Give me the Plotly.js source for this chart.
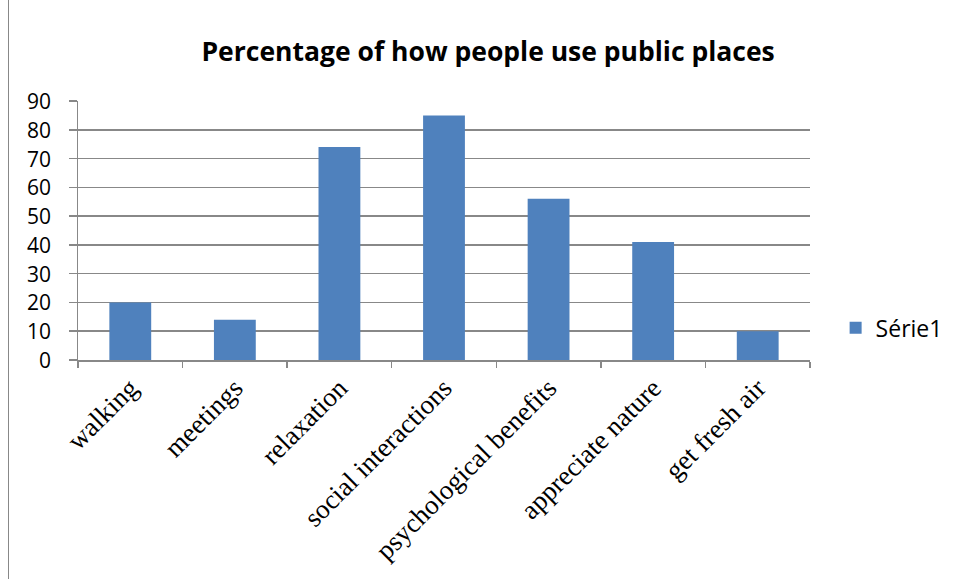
<!DOCTYPE html>
<html>
<head>
<meta charset="utf-8">
<script src="https://cdn.plot.ly/plotly-3.0.1.min.js"></script>
<style>
html,body{margin:0;padding:0;background:#fff;}
#wrap{position:absolute;left:0;top:0;width:959px;height:579px;}
#frame{position:absolute;left:8px;top:-2px;width:960px;height:590px;border:1px solid #888;box-sizing:border-box;pointer-events:none;}
#chart{position:absolute;left:0;top:0;width:959px;height:579px;}
</style>
</head>
<body>
<div id="wrap">
<div id="chart"></div>
<div id="frame"></div>
</div>
<script>
const categories = ["walking", "meetings", "relaxation", "social interactions", "psychological benefits", "appreciate nature", "get fresh air"];
const serie1 = [20, 14, 74, 85, 56, 41, 10];
const yTicks = [0, 10, 20, 30, 40, 50, 60, 70, 80, 90];
const seriesName = "Série1";
const titleText = "Percentage of how people use public places";

const trace = {
  type: "bar",
  x: categories,
  y: serie1,
  name: seriesName,
  marker: {color: "#4f81bd", line: {width: 0}},
  showlegend: true,
  hoverinfo: "x+y"
};

// y tick labels drawn as annotations so they sit further from the axis, as in the reference
const yLabelAnnotations = yTicks.map(v => ({
  text: String(v),
  xref: "paper", x: -0.034, xanchor: "right",
  yref: "y", y: v, yanchor: "middle",
  showarrow: false,
  font: {family: "Open Sans, Liberation Sans, sans-serif", size: 21, color: "#000"}
}));

const layout = {
  width: 959,
  height: 579,
  margin: {l: 78, r: 149, t: 101, b: 219, pad: 0, autoexpand: false},
  paper_bgcolor: "rgba(0,0,0,0)",
  plot_bgcolor: "#fff",
  title: {
    text: "<b>" + titleText + "</b>",
    font: {family: "Open Sans, Liberation Sans, sans-serif", size: 26.5, color: "#000"},
    x: 0.509, xanchor: "center", xref: "container",
    y: 0.91, yanchor: "middle", yref: "container"
  },
  bargap: 0.6,
  xaxis: {
    type: "category",
    tickangle: -45,
    tickfont: {family: "Liberation Serif, Times New Roman, serif", size: 27, color: "#000"},
    showline: true, linecolor: "#888", linewidth: 1.5,
    ticks: "outside", tickson: "boundaries", ticklen: 6, tickcolor: "#888", tickwidth: 1.5,
    showgrid: false, zeroline: false,
    automargin: false
  },
  yaxis: {
    range: [0, 90],
    tickvals: yTicks,
    showticklabels: false,
    showline: true, linecolor: "#888", linewidth: 1.5,
    ticks: "outside", ticklen: 8, tickcolor: "#888", tickwidth: 1.5,
    showgrid: true, gridcolor: "#888", gridwidth: 1.5,
    zeroline: false,
    automargin: false
  },
  annotations: yLabelAnnotations,
  legend: {
    x: 1.035, xanchor: "left",
    y: 0.124, yanchor: "middle",
    font: {family: "Open Sans, Liberation Sans, sans-serif", size: 23, color: "#000"},
    bgcolor: "rgba(0,0,0,0)",
    itemwidth: 30
  },
  showlegend: true
};

Plotly.newPlot("chart", [trace], layout, {displayModeBar: false, staticPlot: true});
</script>
</body>
</html>
